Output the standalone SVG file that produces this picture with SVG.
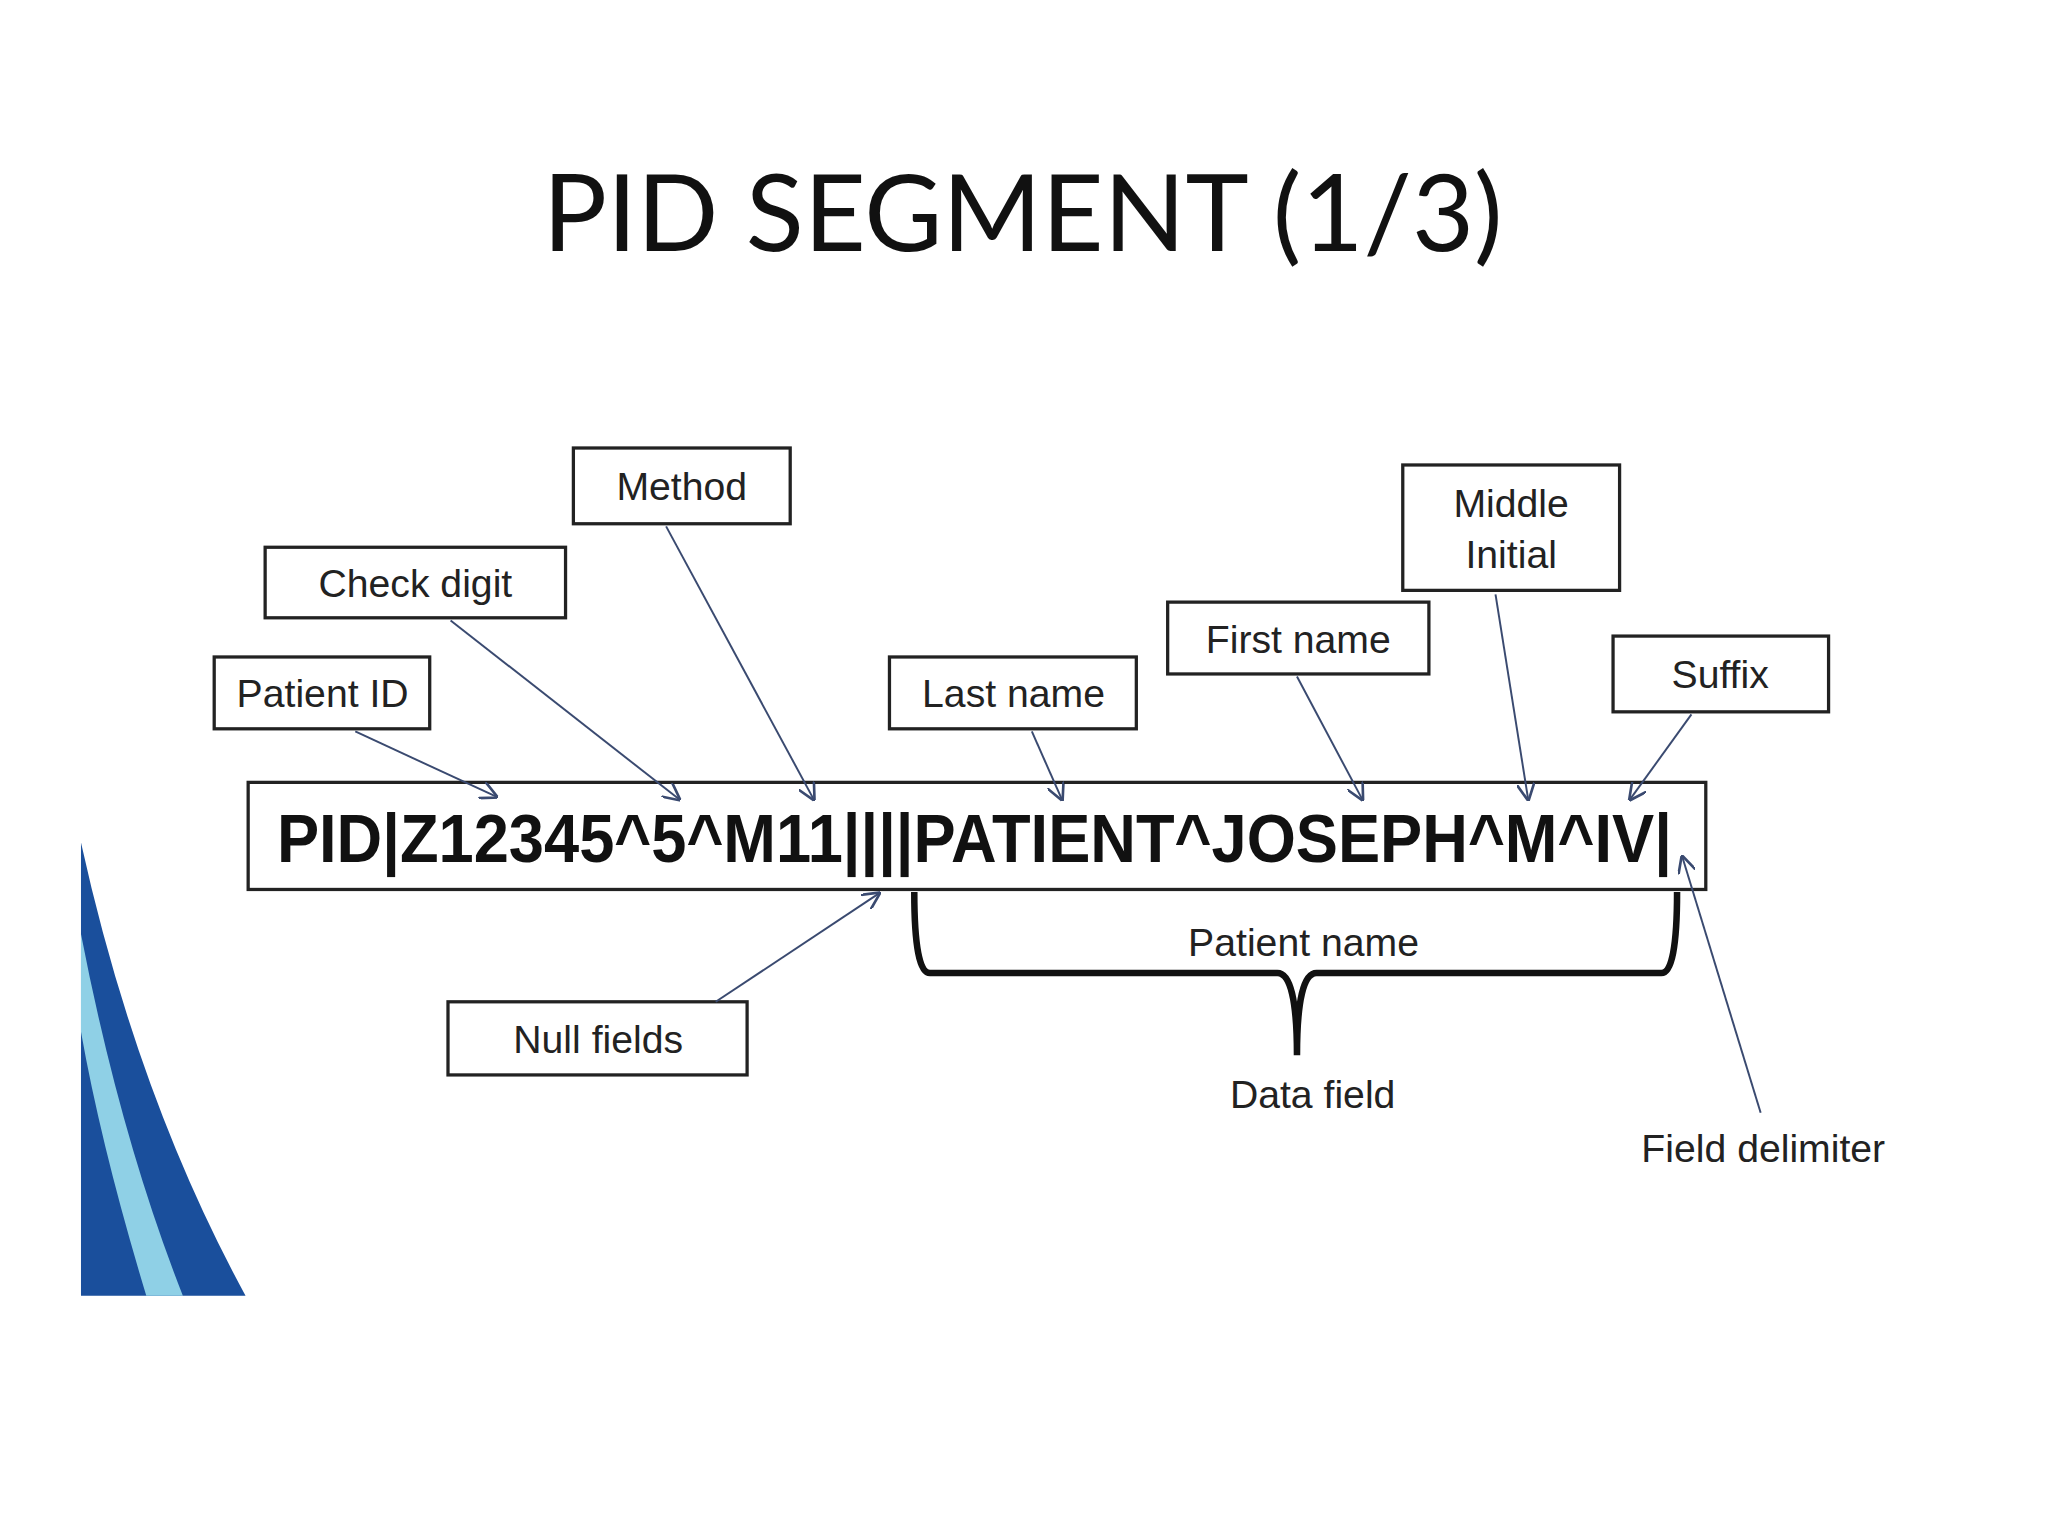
<svg xmlns="http://www.w3.org/2000/svg" width="2048" height="1536" viewBox="0 0 2048 1536">
<defs>
<style>
.box{fill:#fff;stroke:#222;stroke-width:2.5}
.lbl{font-family:"Liberation Sans",Arial,sans-serif;font-size:30px;fill:#222;text-anchor:middle}
.ar{stroke:#3a4a70;stroke-width:1.5;fill:none;marker-end:url(#ah)}
</style>
<marker id="ah" viewBox="0 0 10 10" refX="9" refY="5" markerWidth="9" markerHeight="9" orient="auto"><path d="M0,0 L10,5 L0,10" fill="none" stroke="#3a4a70" stroke-width="1.5"/></marker>
</defs>
<rect width="2048" height="1536" fill="#fff"/>
<g transform="scale(1.30612)">
<text x="783" y="192" font-family="Lato,'Open Sans',sans-serif" font-size="82" text-anchor="middle" fill="#111">PID SEGMENT (1/3)</text>
<g id="swoosh">
<path d="M62,645 Q105,840 188,992 L62,992 Z" fill="#1a4f9c"/>
<path d="M62,715 Q92,870 140,992 L112,992 Q78,880 62,790 Z" fill="#8fd0e6"/>
</g>
<g id="segment"><rect class="box" x="190" y="599" width="1116" height="82"/>
<text x="212" y="660" font-family="'Liberation Sans',Arial,sans-serif" font-weight="bold" font-size="52" textLength="1068" lengthAdjust="spacingAndGlyphs" fill="#111">PID|Z12345^5^M11||||PATIENT^JOSEPH^M^IV|</text></g>
<g id="patientid"><rect class="box" x="164" y="503" width="165" height="55"/><text class="lbl" x="247" y="541">Patient ID</text></g>
<g id="checkdigit"><rect class="box" x="203" y="419" width="230" height="54"/><text class="lbl" x="318" y="457">Check digit</text></g>
<g id="method"><rect class="box" x="439" y="343" width="166" height="58"/><text class="lbl" x="522" y="383">Method</text></g>
<g id="lastname"><rect class="box" x="681" y="503" width="189" height="55"/><text class="lbl" x="776" y="541">Last name</text></g>
<g id="firstname"><rect class="box" x="894" y="461" width="200" height="55"/><text class="lbl" x="994" y="500">First name</text></g>
<g id="middle"><rect class="box" x="1074" y="356" width="166" height="96"/><text class="lbl" x="1157" y="396">Middle</text><text class="lbl" x="1157" y="435">Initial</text></g>
<g id="suffix"><rect class="box" x="1235" y="487" width="165" height="58"/><text class="lbl" x="1317" y="527">Suffix</text></g>
<g id="nullfields"><rect class="box" x="343" y="767" width="229" height="56"/><text class="lbl" x="458" y="806">Null fields</text></g>
<g id="patientname">
<path d="M700,683 Q700,745 712,745 L978,745 Q993,745 993,808 Q993,745 1008,745 L1272,745 Q1284,745 1284,683" fill="none" stroke="#111" stroke-width="5"/>
<text class="lbl" x="998" y="732" font-size="38">Patient name</text></g>
<g id="datafield"><text class="lbl" x="1005" y="848">Data field</text></g>
<g id="fielddelim"><text class="lbl" x="1350" y="890">Field delimiter</text></g>
<g id="connectors">
<line class="ar" x1="272" y1="560" x2="380" y2="610"/>
<line class="ar" x1="345" y1="475" x2="520" y2="612"/>
<line class="ar" x1="510" y1="403" x2="623" y2="612"/>
<line class="ar" x1="790" y1="560" x2="813" y2="612"/>
<line class="ar" x1="993" y1="518" x2="1043" y2="612"/>
<line class="ar" x1="1145" y1="455" x2="1170" y2="612"/>
<line class="ar" x1="1295" y1="547" x2="1248" y2="612"/>
<line class="ar" x1="548" y1="767" x2="673" y2="684" stroke="#222"/>
<line class="ar" x1="1348" y1="852" x2="1288" y2="656"/>
</g>
</g>
</svg>
